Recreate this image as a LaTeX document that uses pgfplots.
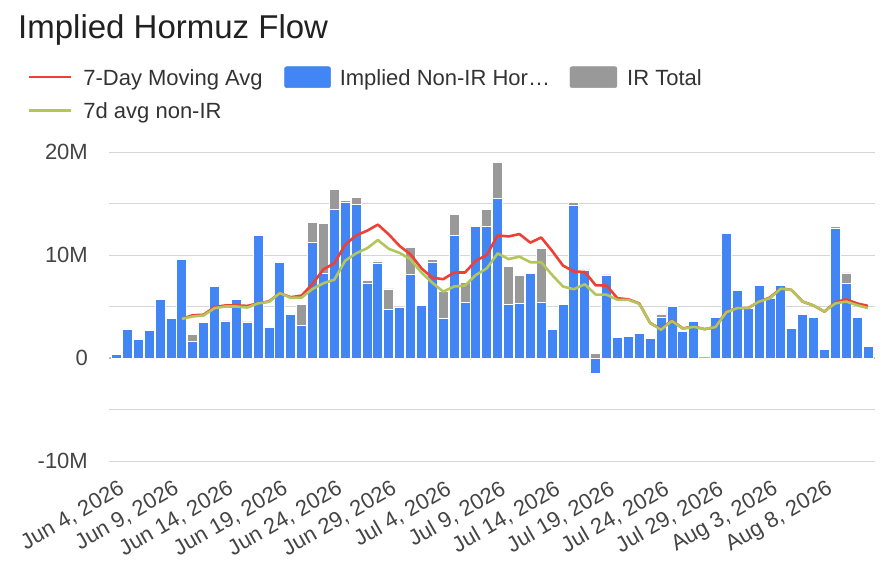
\documentclass[border=0pt]{standalone}
\usepackage{pgfplots}
\pgfplotsset{compat=1.18}
\usepackage{pgfplotstable}
\usepackage{fontspec}
\setmainfont{Liberation Sans}
\definecolor{blueC}{HTML}{4285F4}
\definecolor{grayC}{HTML}{999999}
\definecolor{redC}{HTML}{EE4035}
\definecolor{greenC}{HTML}{B4C55C}
\definecolor{gridC}{HTML}{D6D6D6}
\definecolor{zeroC}{HTML}{BDBDBD}
\definecolor{tickC}{HTML}{444444}
\definecolor{legC}{HTML}{333333}
\definecolor{titleC}{HTML}{212121}

\pgfplotstableread{
x blue top red green
0 0.32 nan nan nan
1 2.8 nan nan nan
2 1.84 nan nan nan
3 2.7 nan nan nan
4 5.7 nan nan nan
5 3.84 nan nan nan
6 9.55 nan 3.8 3.8
7 1.65 2.3 4.15 4.03
8 3.45 nan 4.2 4.13
9 6.94 nan 4.95 4.84
10 3.6 nan 5.1 5.0
11 5.65 nan 5.1 5.0
12 3.5 nan 5.06 4.9
13 11.9 nan 5.3 5.3
14 3.0 nan 5.5 5.45
15 9.3 nan 6.3 6.3
16 4.2 nan 5.9 5.84
17 3.2 5.2 6.06 5.87
18 11.2 13.2 7.2 6.7
19 8.2 13.1 8.6 7.26
20 14.45 16.4 9.2 7.6
21 15.06 15.26 11.0 9.45
22 14.9 15.6 11.9 10.16
23 7.26 7.55 12.35 10.65
24 9.16 9.42 12.95 11.45
25 4.74 6.7 12.0 10.6
26 4.94 nan 10.87 10.2
27 8.1 10.74 10.06 9.58
28 5.1 nan 8.7 8.3
29 9.26 9.6 7.8 7.3
30 3.84 6.45 7.65 6.45
31 11.94 13.94 8.3 6.94
32 5.42 7.35 8.3 7.03
33 12.74 nan 9.45 8.06
34 12.8 14.4 10.0 8.7
35 15.48 18.97 11.9 10.16
36 5.23 8.87 11.8 9.6
37 5.32 8.0 12.03 9.84
38 8.23 nan 11.2 9.3
39 5.39 10.65 11.7 9.3
40 2.74 nan 10.4 8.06
41 5.23 nan 8.97 6.94
42 14.77 15.06 8.4 6.68
43 8.55 nan 8.35 7.16
44 -1.5 0.42 7.06 6.16
45 8.06 nan 7.03 6.15
46 1.97 nan 5.8 5.65
47 2.1 nan 5.7 5.65
48 2.35 nan 5.3 5.26
49 1.87 nan 3.4 3.4
50 3.94 4.26 2.8 2.74
51 5.0 nan 3.65 3.6
52 2.55 nan 2.87 2.84
53 3.58 nan 3.06 3.03
54 -0.1 nan 2.8 2.8
55 3.97 nan 3.0 3.0
56 12.1 nan 4.5 4.45
57 6.6 nan 4.84 4.84
58 4.84 nan 4.84 4.84
59 7.06 nan 5.48 5.48
60 5.74 nan 5.87 5.8
61 7.06 nan 6.77 6.74
62 2.9 nan 6.6 6.6
63 4.2 nan 5.48 5.48
64 3.9 nan 5.1 5.1
65 0.84 nan 4.5 4.5
66 12.58 12.8 5.4 5.3
67 7.26 8.26 5.7 5.48
68 3.9 nan 5.3 5.13
69 1.1 nan 5.06 4.84
}\datatable

\begin{document}
\begin{tikzpicture}
\path[use as bounding box] (0,0) rectangle (884bp,568bp);
\node[anchor=base west, inner sep=0pt, text=titleC, font=\fontsize{33bp}{38bp}\selectfont] at (18bp,529bp) {Implied Hormuz Flow};
\begin{axis}[
  at={(109bp,107bp)}, anchor=south west,
  scale only axis, width=766bp, height=309bp,
  xmin=-0.69, xmax=69.65, ymin=-10, ymax=20,
  axis line style={draw=none},
  major tick length=0pt, minor tick length=0pt,
  ytick={-10,0,10,20},
  yticklabels={-10M,0,10M,20M},
  minor ytick={-5,5,15},
  extra y ticks={0}, extra y tick labels={},
  extra y tick style={major grid style={color=zeroC, line width=1.6bp}},
  ymajorgrids, yminorgrids,
  major grid style={color=gridC, line width=0.9bp},
  minor grid style={color=gridC, line width=0.9bp},
  xtick={0,5,...,65},
  xticklabels={{Jun 4, 2026},{Jun 9, 2026},{Jun 14, 2026},{Jun 19, 2026},{Jun 24, 2026},{Jun 29, 2026},{Jul 4, 2026},{Jul 9, 2026},{Jul 14, 2026},{Jul 19, 2026},{Jul 24, 2026},{Jul 29, 2026},{Aug 3, 2026},{Aug 8, 2026}},
  yticklabel style={font=\fontsize{22bp}{26bp}\selectfont, text=tickC, inner sep=0pt, anchor=east, xshift=-21bp},
  xticklabel style={font=\fontsize{22bp}{26bp}\selectfont, text=tickC, inner sep=0pt, xshift=1.5bp, yshift=-18bp, rotate=30, anchor=north east},
  legend columns=3,
  legend cell align=left,
  legend style={at={(axis description cs:-0.10574,1.2767)}, anchor=north west,
    draw=none, fill=none, inner sep=0pt, outer sep=0pt,
    row sep=14.6bp, column sep=0pt,
    nodes={inner sep=0pt, text depth=0pt, text height=15.8bp, text=legC, font=\fontsize{22bp}{26bp}\selectfont}},
]
\addlegendimage{legend image code/.code={\draw[color=redC, line width=2.4bp] (0bp,0bp) -- (42bp,0bp); \path (54bp,0bp);}}
\addlegendentry{\makebox[201bp][l]{7-Day Moving Avg}}
\addlegendimage{legend image code/.code={\fill[blueC, rounded corners=2bp] (0bp,-10.5bp) rectangle (46bp,10.5bp); \path (55bp,0bp);}}
\addlegendentry{\makebox[230bp][l]{Implied Non-IR Hor…}}
\addlegendimage{legend image code/.code={\fill[grayC, rounded corners=2bp] (0bp,-10.5bp) rectangle (47bp,10.5bp); \path (57bp,0bp);}}
\addlegendentry{IR Total}
\addlegendimage{legend image code/.code={\draw[color=greenC, line width=2.4bp] (0bp,0bp) -- (42bp,0bp); \path (54bp,0bp);}}
\addlegendentry{\makebox[201bp][l]{7d avg non-IR}}

\addplot[forget plot, ybar, bar width=10bp, bar shift=0pt, fill=grayC, draw=white, line width=0.8bp] table[x=x, y=top] {\datatable};
\addplot[forget plot, ybar, bar width=10bp, bar shift=0pt, fill=blueC, draw=white, line width=0.8bp] table[x=x, y=blue] {\datatable};
\addplot[forget plot, sharp plot, no marks, color=redC, line width=2.6bp, line join=round] table[x=x, y=red] {\datatable};
\addplot[forget plot, sharp plot, no marks, color=greenC, line width=2.6bp, line join=round] table[x=x, y=green] {\datatable};
\end{axis}
\end{tikzpicture}
\end{document}
